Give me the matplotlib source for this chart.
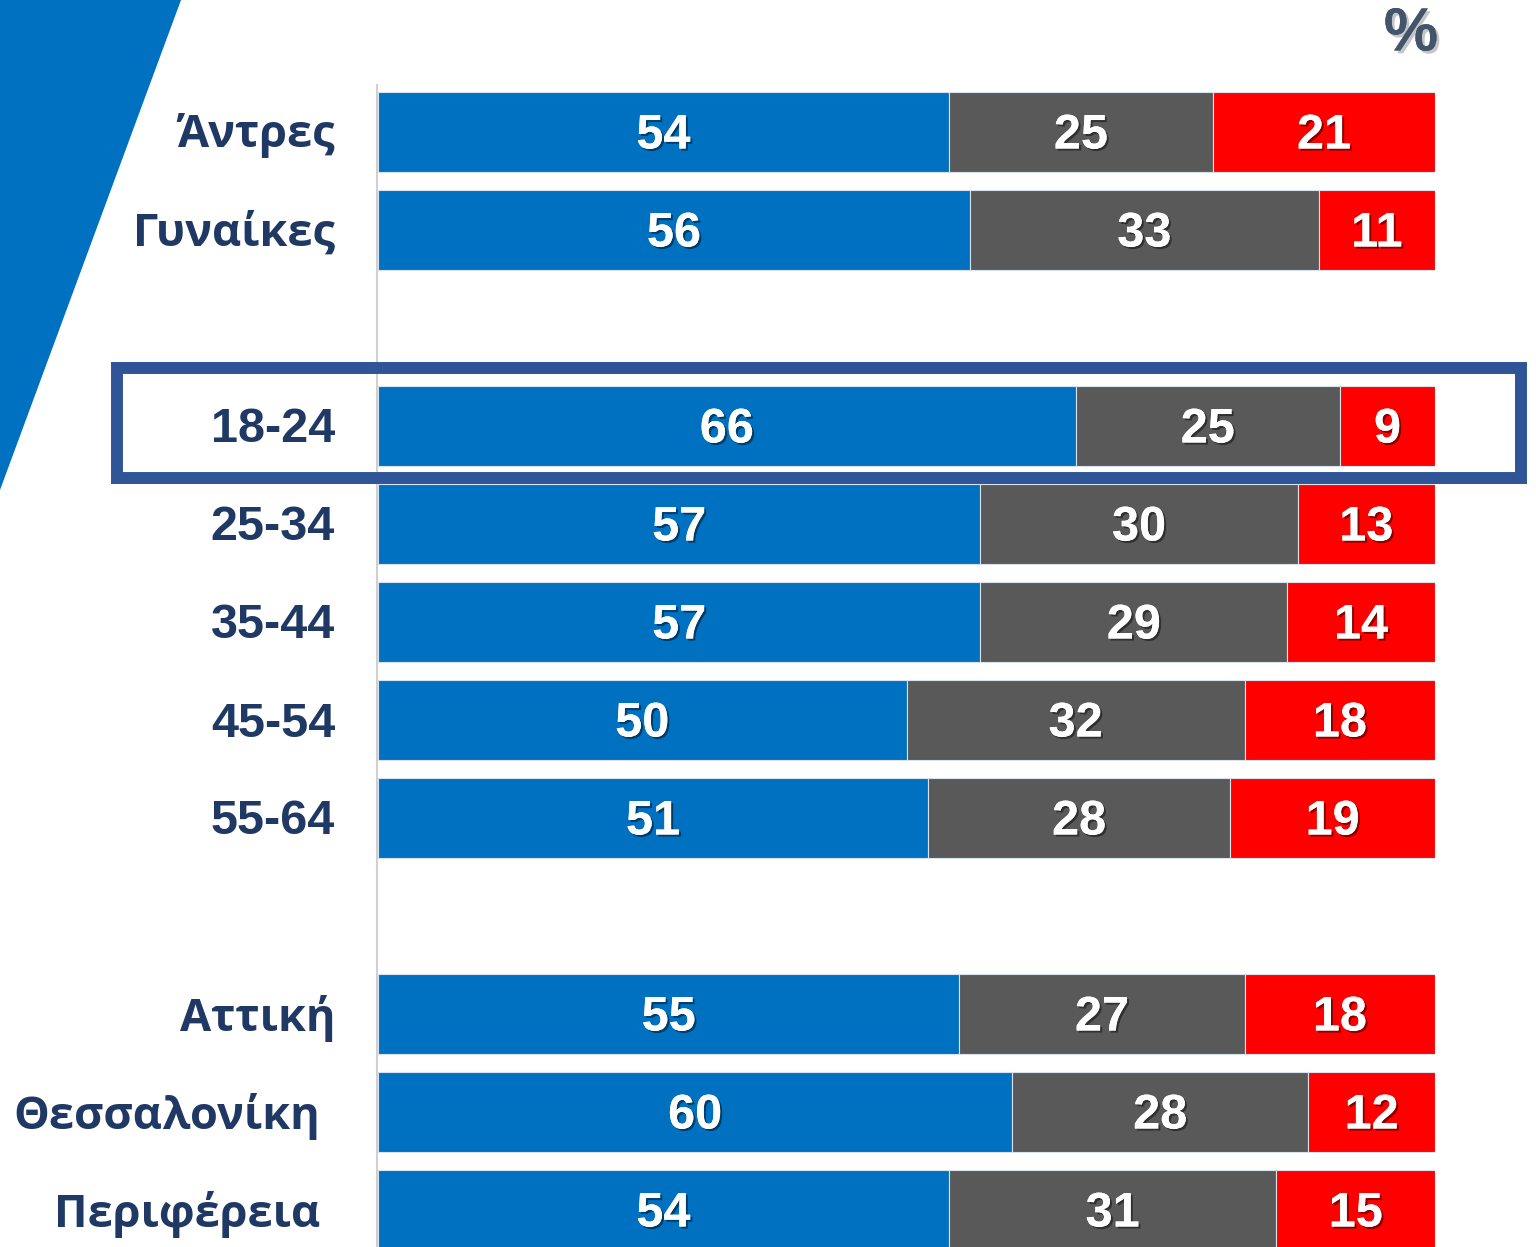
import numpy as np
import matplotlib.pyplot as plt
import matplotlib.patheffects as pe
from matplotlib.patches import Polygon, Rectangle

categories = ["Άντρες", "Γυναίκες", "18-24", "25-34", "35-44", "45-54", "55-64",
              "Αττική", "Θεσσαλονίκη", "Περιφέρεια"]
rows = [0, 1, 3, 4, 5, 6, 7, 9, 10, 11]  # gaps between groups
blue_vals = [54, 56, 66, 57, 57, 50, 51, 55, 60, 54]
gray_vals = [25, 33, 25, 30, 29, 32, 28, 27, 28, 31]
red_vals = [21, 11, 9, 13, 14, 18, 19, 18, 12, 15]
label_right = [335, 335, 335, 335, 335, 335, 335, 335, 320, 320]  # px

W, H = 1536, 1247
fig = plt.figure(figsize=(W / 100, H / 100), dpi=100)

# decorative blue wedge top-left
fig.patches.append(Polygon([[0, 1], [181 / W, 1], [0, 1 - 490 / H]], closed=True,
                           transform=fig.transFigure, facecolor="#0070C0",
                           edgecolor="none", zorder=0))

x0, x1 = 378, 1435
ax = fig.add_axes([x0 / W, 0, (x1 - x0) / W, 1])
ax.set_xlim(0, 100)
ax.set_ylim((H - 132) / 98, -132 / 98)
ax.axis("off")

colors = ["#0070C0", "#595959", "#FF0000"]
h = 0.82
dy = 4 / 98  # nudge text down a little
totals = np.array(blue_vals) + np.array(gray_vals) + np.array(red_vals)
left = np.zeros(len(rows))
shadow = [pe.withSimplePatchShadow(offset=(1.5, -1.5), shadow_rgbFace="black", alpha=0.45),
          pe.Normal()]
for vals, c in zip([blue_vals, gray_vals, red_vals], colors):
    v = np.array(vals, dtype=float)
    w = v / totals * 100  # 100% stacked
    ax.barh(rows, w, left=left, height=h, color=c, edgecolor="#d9e2ef", linewidth=0.8)
    for y, l, ww, val in zip(rows, left, w, v):
        ax.text(l + ww / 2, y + dy, f"{int(val)}", ha="center", va="center",
                fontsize=35, fontweight="bold", color="white",
                family="Liberation Sans", path_effects=shadow)
    left += w

# thin vertical axis line
fig.add_artist(plt.Line2D([377 / W, 377 / W], [0, 1 - 85 / H], color="#d0d0d0",
                          linewidth=1.5, transform=fig.transFigure, zorder=1))

# category labels
for cat, y, xr in zip(categories, rows, label_right):
    fam = "Liberation Sans" if cat[0].isdigit() else "Open Sans"
    fy = 1 - (136 + 98 * y) / H
    fig.text(xr / W, fy, cat, ha="right", va="center", fontsize=35 if fam == "Liberation Sans" else 32.5,
             fontweight="bold", color="#1F3864", family=fam)

# percent sign
fig.text(1411 / W, 1 - 35 / H, "%", ha="center", va="center", fontsize=44,
         fontweight="bold", color="#44546A", family="Liberation Sans",
         path_effects=[pe.withSimplePatchShadow(offset=(2, -2), alpha=0.25), pe.Normal()])

# highlight box around 18-24
fig.patches.append(Rectangle((117 / W, 1 - 478 / H), (1521 - 117) / W, 110 / H,
                             transform=fig.transFigure, fill=False,
                             edgecolor="#2F5597", linewidth=8.6, zorder=5))

fig.savefig("out.png", dpi=100)
